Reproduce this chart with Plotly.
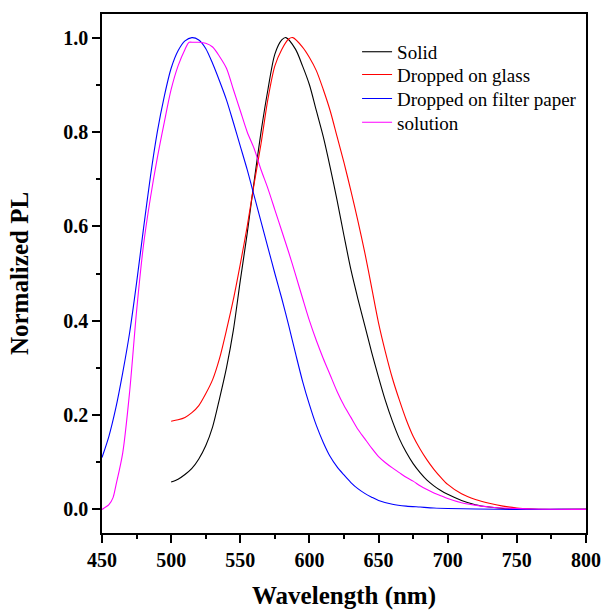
import plotly.graph_objects as go

# ---------------- data ----------------
solid_wl = [500, 505, 510, 515, 520, 525, 530, 535, 540, 545, 550, 555, 560, 565, 570, 575, 580, 583,
            590, 595, 600, 605, 610, 615, 620, 625, 630, 635, 640, 645, 650, 655, 660, 665, 670, 675,
            680, 685, 690, 695, 700, 710, 720, 730, 740, 750, 760, 780, 800]
solid_pl = [0.058, 0.064, 0.074, 0.087, 0.107, 0.135, 0.175, 0.235, 0.30, 0.38, 0.485, 0.585, 0.695,
            0.80, 0.89, 0.965, 0.995, 1.0,
            0.975, 0.94, 0.90, 0.845, 0.79, 0.725, 0.655, 0.58, 0.508, 0.447, 0.39, 0.333, 0.28, 0.23,
            0.187, 0.15, 0.121, 0.097, 0.078, 0.062, 0.05, 0.04, 0.032, 0.019, 0.010, 0.005, 0.002,
            0.001, 0.0, 0.0, 0.0]

glass_wl = [500, 505, 510, 515, 520, 525, 530, 535, 540, 545, 550, 555, 560, 565, 570, 575, 580, 585, 588,
            595, 600, 605, 610, 615, 620, 625, 630, 635, 640, 645, 650, 655, 660, 665, 670, 675, 680,
            685, 690, 695, 700, 710, 720, 730, 740, 750, 760, 770, 800]
glass_pl = [0.187, 0.19, 0.195, 0.205, 0.22, 0.245, 0.275, 0.32, 0.38, 0.445, 0.52, 0.60, 0.69, 0.775,
            0.87, 0.94, 0.975, 0.997, 1.0,
            0.98, 0.958, 0.93, 0.89, 0.845, 0.79, 0.735, 0.675, 0.612, 0.545, 0.47, 0.395, 0.333, 0.278,
            0.232, 0.19, 0.155, 0.128, 0.105, 0.085, 0.068, 0.053, 0.033, 0.021, 0.013, 0.007, 0.003,
            0.001, 0.0, 0.0]

paper_wl = [450, 455, 460, 465, 470, 475, 480, 485, 490, 495, 500, 505, 510, 515, 520, 525, 530, 535,
            540, 545, 550, 555, 560, 565, 570, 575, 580, 585, 590, 595, 600, 605, 610, 615, 620, 625,
            630, 635, 640, 645, 650, 660, 670, 680, 690, 700, 720, 750, 800]
paper_pl = [0.11, 0.155, 0.215, 0.29, 0.375, 0.48, 0.595, 0.705, 0.80, 0.875, 0.935, 0.972, 0.993, 1.0,
            0.995, 0.977, 0.945, 0.908, 0.868, 0.82, 0.77, 0.72, 0.665, 0.61, 0.555, 0.50, 0.447, 0.39,
            0.33, 0.272, 0.222, 0.178, 0.142, 0.112, 0.09, 0.073, 0.057, 0.044, 0.034, 0.026, 0.019,
            0.011, 0.007, 0.005, 0.003, 0.002, 0.001, 0.0, 0.0]

sol_wl = [450, 455, 458, 460, 465, 470, 475, 480, 485, 490, 495, 500, 505, 510, 513, 516, 520, 525,
          530, 535, 540, 545, 550, 555, 560, 565, 570, 575, 580, 585, 590, 595, 600, 605, 610, 615,
          620, 625, 630, 635, 640, 645, 650, 655, 660, 665, 670, 675, 680, 685, 690, 695, 700, 710,
          720, 730, 740, 750, 760, 800]
sol_pl = [0.0, 0.01, 0.025, 0.05, 0.12, 0.25, 0.42, 0.56, 0.66, 0.745, 0.82, 0.89, 0.94, 0.975, 0.99,
          0.99, 0.99, 0.988, 0.98, 0.96, 0.935, 0.89, 0.845, 0.80, 0.765, 0.72, 0.68, 0.635, 0.59,
          0.545, 0.497, 0.448, 0.40, 0.358, 0.32, 0.285, 0.25, 0.22, 0.195, 0.17, 0.15, 0.13, 0.112,
          0.099, 0.088, 0.078, 0.068, 0.06, 0.05, 0.042, 0.035, 0.029, 0.023, 0.014, 0.009, 0.005,
          0.003, 0.002, 0.001, 0.0]

series = [
    ("Solid", solid_wl, solid_pl, "#000000"),
    ("Dropped on glass", glass_wl, glass_pl, "#ff0000"),
    ("Dropped on filter paper", paper_wl, paper_pl, "#0000ff"),
    ("solution", sol_wl, sol_pl, "#ff00ff"),
]

x_ticks = [450, 500, 550, 600, 650, 700, 750, 800]
y_ticks = [0.0, 0.2, 0.4, 0.6, 0.8, 1.0]

FONT = "Liberation Serif, Times New Roman, serif"

legend_ids = ["legend", "legend2", "legend3", "legend4"]
legend_rows_y = [0.927, 0.883, 0.837, 0.791]

fig = go.Figure()
for (name, xs, ys, col), lid in zip(series, legend_ids):
    fig.add_trace(go.Scatter(x=xs, y=ys, mode="lines", name=name, legend=lid,
                             line=dict(color=col, width=1.1, shape="spline", smoothing=0.8)))

axis_common = dict(showline=True, linecolor="black", linewidth=1.5, mirror=True,
                   ticks="outside", ticklen=8, tickwidth=1.5, tickcolor="black",
                   showgrid=False, zeroline=False, automargin=False,
                   tickfont=dict(family=FONT, size=20, color="black", weight="bold"))

fig.update_xaxes(range=[450, 800], tickvals=x_ticks, ticktext=[str(v) for v in x_ticks],
                 minor=dict(ticks="outside", dtick=25, ticklen=4, tickwidth=1.5, tickcolor="black"),
                 title=dict(text="Wavelength (nm)", font=dict(family=FONT, size=25, color="black", weight="bold"),
                            standoff=17),
                 **axis_common)
fig.update_yaxes(range=[-0.05, 1.05], tickvals=y_ticks, ticktext=[f"{v:.1f}" for v in y_ticks],
                 minor=dict(ticks="outside", dtick=0.1, ticklen=4, tickwidth=1.5, tickcolor="black"),
                 title=dict(text="Normalized PL", font=dict(family=FONT, size=25, color="black", weight="bold"),
                            standoff=28),
                 **axis_common)

legend_style = dict(x=0.527, xanchor="left", yanchor="middle",
                    bgcolor="rgba(0,0,0,0)", borderwidth=0,
                    font=dict(family=FONT, size=19, color="black"),
                    tracegroupgap=0, itemwidth=30)

fig.update_layout(
    width=604, height=610,
    margin=dict(l=102, r=18, t=14, b=77),
    paper_bgcolor="white", plot_bgcolor="white",
    showlegend=True,
    **{lid: dict(y=yy, **legend_style) for lid, yy in zip(legend_ids, legend_rows_y)},
)

fig.write_html("out.html")
